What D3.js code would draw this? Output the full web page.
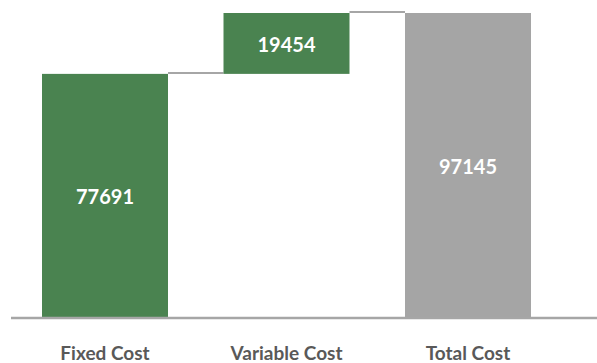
<!DOCTYPE html>
<html>
<head>
<meta charset="utf-8">
<script src="https://cdn.jsdelivr.net/npm/d3@7"></script>
<style>
  html, body { margin: 0; padding: 0; background: #fff; }
  svg { display: block; }
  text { font-family: Lato, "Open Sans", sans-serif; font-weight: bold; }
</style>
</head>
<body>
<svg id="chart" width="597" height="363"></svg>
<script>
// Cost breakdown (waterfall)
const categories = ["Fixed Cost", "Variable Cost", "Total Cost"];
const values = [77691, 19454, 97145];
const kinds = ["step", "step", "total"];

const width = 597, height = 363;
const svg = d3.select("#chart");

const x = d3.scaleBand()
  .domain(categories)
  .range([42, 531])
  .paddingInner(0.3058)
  .paddingOuter(0);

const y = d3.scaleLinear()
  .domain([0, 97145])
  .range([317, 13]);

// running totals for the floating steps
let run = 0;
const bars = categories.map((c, i) => {
  let start, end;
  if (kinds[i] === "total") { start = 0; end = values[i]; }
  else { start = run; end = run + values[i]; run = end; }
  return { cat: c, value: values[i], start, end, kind: kinds[i] };
});

const fill = d => d.kind === "total" ? "#a5a5a5" : "#4a8350";

// connectors between consecutive bars
const conn = bars.slice(0, -1).map((d, i) => ({ from: d, to: bars[i + 1] }));
svg.append("g").selectAll("line").data(conn).join("line")
  .attr("x1", d => x(d.from.cat) + x.bandwidth())
  .attr("x2", d => x(d.to.cat))
  .attr("y1", d => y(d.from.end) - 1)
  .attr("y2", d => y(d.from.end) - 1)
  .attr("stroke", "#a6a6a6")
  .attr("stroke-width", 2);

svg.append("g").selectAll("rect").data(bars).join("rect")
  .attr("x", d => x(d.cat))
  .attr("width", x.bandwidth())
  .attr("y", d => y(Math.max(d.start, d.end)))
  .attr("height", d => Math.abs(y(d.start) - y(d.end)))
  .attr("fill", fill);

svg.append("g").selectAll("text").data(bars).join("text")
  .attr("x", d => x(d.cat) + x.bandwidth() / 2)
  .attr("y", d => (y(d.start) + y(d.end)) / 2 + 1)
  .attr("text-anchor", "middle")
  .attr("dominant-baseline", "central")
  .attr("fill", "#fff")
  .style("font-size", "20px")
  .text(d => d.value);

// category axis
const axis = svg.append("g")
  .attr("transform", "translate(0,318)")
  .call(d3.axisBottom(x).tickSize(0).tickPadding(29));
axis.select(".domain").remove();
axis.append("line")
  .attr("x1", 11).attr("x2", width)
  .attr("stroke", "#a6a6a6").attr("stroke-width", 2.5);
axis.selectAll(".tick text")
  .attr("fill", "#595959")
  .style("font-family", "Lato, 'Open Sans', sans-serif")
  .style("font-weight", "bold")
  .style("font-size", "19px");
</script>
</body>
</html>
